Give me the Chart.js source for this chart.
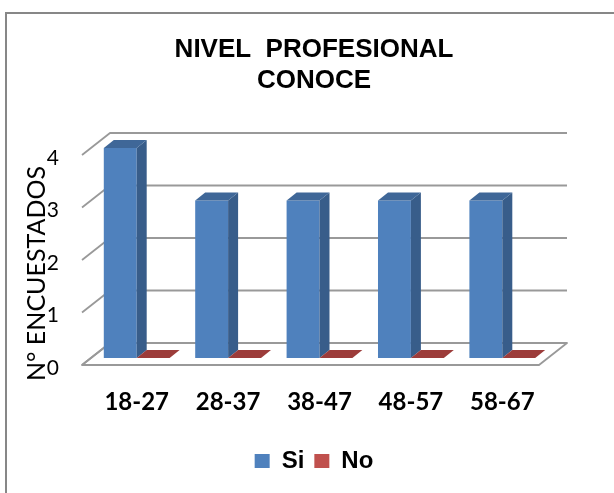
<!DOCTYPE html>
<html>
<head>
<meta charset="utf-8">
<script src="https://cdn.jsdelivr.net/npm/chart.js@4.4.1/dist/chart.umd.min.js"></script>
<style>
  html, body { margin: 0; padding: 0; background: #ffffff; }
  #wrap { width: 614px; height: 493px; }
</style>
</head>
<body>
<div id="wrap"><canvas id="chart" width="614" height="493"></canvas></div>
<script>
// Survey counts per age group
const categories = ['18-27', '28-37', '38-47', '48-57', '58-67'];
const siValues = [4, 3, 3, 3, 3];
const noValues = [0, 0, 0, 0, 0];
const seriesNames = ['Si', 'No'];
const titleLines = ['NIVEL  PROFESIONAL', 'CONOCE'];
const yAxisTitle = 'N° ENCUESTADOS';

// Colours for the front, side and top faces of each series
const faceColors = [
  { front: '#4f81bd', side: '#385d8a', top: '#3f6798' },
  { front: '#c0504d', side: '#8c3836', top: '#9c3c3a' }
];

// 3D projection offsets (pixels) relative to the bar plane
const barDepth = { dx: 10, dy: -8 };
const backWall = { dx: 19, dy: -15 };
const floorFront = { dx: -9, dy: 7 };

const pseudo3d = {
  id: 'pseudo3d',
  beforeDraw(chart) {
    const ctx = chart.ctx;
    ctx.save();
    ctx.fillStyle = '#ffffff';
    ctx.fillRect(0, 0, chart.width, chart.height);
    // outer frame
    ctx.strokeStyle = '#878787';
    ctx.lineWidth = 2;
    ctx.strokeRect(6, 13, chart.width + 20, chart.height + 20);
    ctx.restore();
  },
  beforeDatasetsDraw(chart) {
    const ctx = chart.ctx;
    const y = chart.scales.y;
    const area = chart.chartArea;
    const L = area.left, R = area.right;
    ctx.save();
    ctx.strokeStyle = '#999999';
    ctx.lineWidth = 1.8;
    ctx.lineJoin = 'round';
    const ticks = y.ticks.map(t => t.value);
    const y0 = y.getPixelForValue(0);
    // floor
    ctx.beginPath();
    ctx.moveTo(L + backWall.dx, y0 + backWall.dy);
    ctx.lineTo(R + backWall.dx, y0 + backWall.dy);
    ctx.lineTo(R + floorFront.dx, y0 + floorFront.dy);
    ctx.lineTo(L + floorFront.dx, y0 + floorFront.dy);
    ctx.closePath();
    ctx.fillStyle = '#ffffff';
    ctx.fill();
    ctx.stroke();
    // back wall and side wall gridlines
    ticks.forEach(v => {
      const py = y.getPixelForValue(v);
      ctx.beginPath();
      ctx.moveTo(L + floorFront.dx, py + floorFront.dy);
      ctx.lineTo(L + backWall.dx, py + backWall.dy);
      if (v !== 0) ctx.lineTo(R + backWall.dx, py + backWall.dy);
      ctx.stroke();
    });
    ctx.restore();

    // rotated axis title
    ctx.save();
    ctx.translate(37, y.bottom + 23);
    ctx.rotate(-Math.PI / 2);
    ctx.font = '25px Lato';
    ctx.fillStyle = '#000000';
    ctx.textAlign = 'left';
    ctx.textBaseline = 'middle';
    ctx.fillText(yAxisTitle, 0, 0);
    ctx.restore();
  },
  afterDatasetsDraw(chart) {
    const ctx = chart.ctx;
    ctx.save();
    const n = chart.data.labels.length;
    for (let i = 0; i < n; i++) {
      chart.data.datasets.forEach((ds, di) => {
        const meta = chart.getDatasetMeta(di);
        const bar = meta.data[i];
        if (!bar) return;
        const p = bar.getProps(['x', 'y', 'base', 'width'], true);
        const left = p.x - p.width / 2;
        const right = p.x + p.width / 2;
        const top = Math.min(p.y, p.base);
        const c = faceColors[di];
        // side face
        if (p.base - top > 0.5) {
          ctx.beginPath();
          ctx.moveTo(right, top);
          ctx.lineTo(right + barDepth.dx, top + barDepth.dy);
          ctx.lineTo(right + barDepth.dx, p.base + barDepth.dy);
          ctx.lineTo(right, p.base);
          ctx.closePath();
          ctx.fillStyle = c.side;
          ctx.fill();
        }
        // top face
        ctx.beginPath();
        ctx.moveTo(left, top);
        ctx.lineTo(right, top);
        ctx.lineTo(right + barDepth.dx, top + barDepth.dy);
        ctx.lineTo(left + barDepth.dx, top + barDepth.dy);
        ctx.closePath();
        ctx.fillStyle = c.top;
        ctx.fill();
      });
    }
    ctx.restore();
  }
};

new Chart(document.getElementById('chart'), {
  type: 'bar',
  data: {
    labels: categories,
    datasets: [
      { label: seriesNames[0], data: siValues, backgroundColor: faceColors[0].front, borderWidth: 0 },
      { label: seriesNames[1], data: noValues, backgroundColor: faceColors[1].front, borderWidth: 0 }
    ]
  },
  options: {
    responsive: false,
    animation: false,
    events: [],
    layout: { padding: { left: 14, right: 0, top: 0, bottom: 10 } },
    datasets: { bar: { categoryPercentage: 0.72, barPercentage: 1 } },
    scales: {
      x: {
        grid: { display: false },
        border: { display: false },
        ticks: {
          color: '#000000',
          padding: 22,
          font: { family: 'Lato', size: 24, weight: 'bold' }
        },
        afterFit(s) { s.height = 81; }
      },
      y: {
        min: 0,
        max: 4,
        grid: { display: false },
        border: { display: false },
        ticks: {
          stepSize: 1,
          color: '#000000',
          padding: 24,
          labelOffset: 10,
          font: { family: 'Lato', size: 21 }
        },
        afterFit(s) { s.width = 77; }
      },
      yRight: {
        type: 'linear',
        position: 'right',
        grid: { display: false },
        border: { display: false },
        ticks: { display: false },
        afterFit(s) { s.width = 66; }
      }
    },
    plugins: {
      title: {
        display: true,
        text: titleLines,
        color: '#000000',
        font: { family: 'Liberation Sans', size: 26, weight: 'bold', lineHeight: '31px' },
        padding: { top: 34, bottom: 52 }
      },
      legend: {
        position: 'bottom',
        labels: {
          color: '#000000',
          boxWidth: 15,
          boxHeight: 14,
          padding: 10,
          font: { family: 'Liberation Sans', size: 24, weight: 'bold' }
        }
      },
      tooltip: { enabled: false }
    }
  },
  plugins: [pseudo3d]
});
</script>
</body>
</html>
